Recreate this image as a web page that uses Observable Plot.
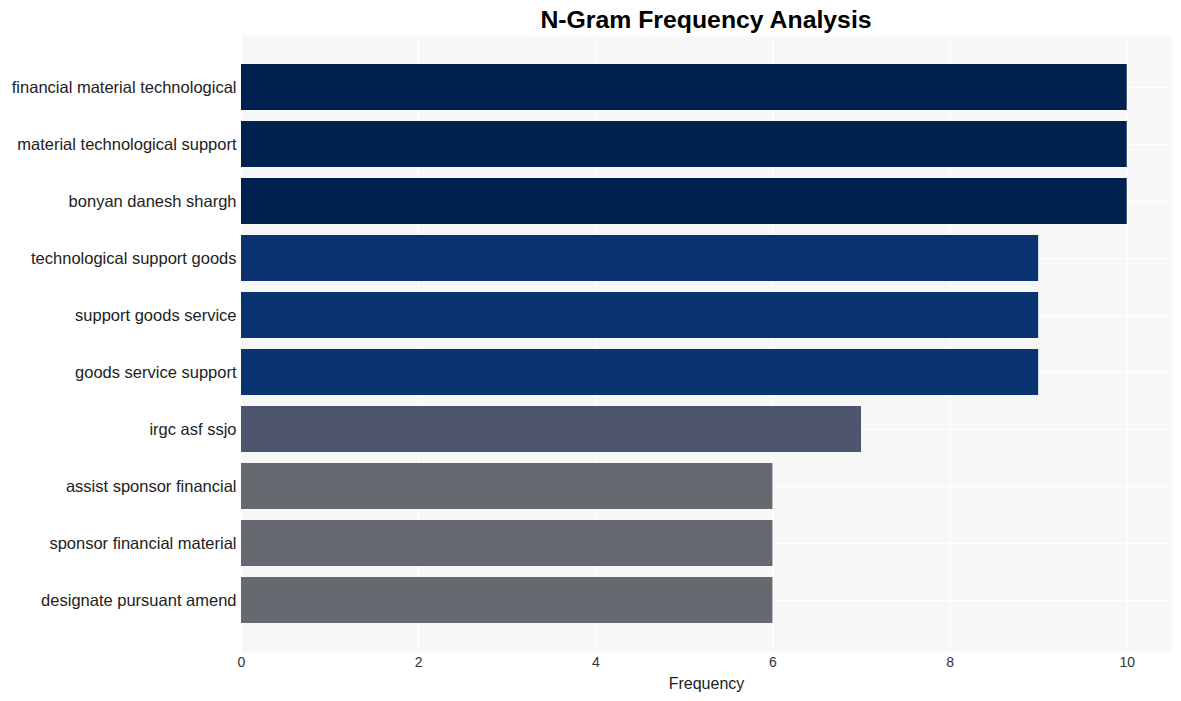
<!DOCTYPE html>
<html>
<head>
<meta charset="utf-8">
<script src="https://cdn.jsdelivr.net/npm/d3@7"></script>
<script src="https://cdn.jsdelivr.net/npm/@observablehq/plot@0.6"></script>
<style>
  body { margin: 0; background: #ffffff; font-family: "Liberation Sans", Arial, sans-serif; }
  #title { height: 36px; width: 1181px; box-sizing: border-box; padding-left: 241px; padding-right: 10px;
           text-align: center; font-weight: bold; font-size: 24.8px; line-height: 40px; color: #000; }
</style>
</head>
<body>
<div id="title">N-Gram Frequency Analysis</div>
<div id="chart"></div>
<script>
const ngrams = [
  "financial material technological",
  "material technological support",
  "bonyan danesh shargh",
  "technological support goods",
  "support goods service",
  "goods service support",
  "irgc asf ssjo",
  "assist sponsor financial",
  "sponsor financial material",
  "designate pursuant amend"
];
const frequencies = [10, 10, 10, 9, 9, 9, 7, 6, 6, 6];
const colorValues = [6, 7, 9, 10];
const colorRange = ["#676970", "#4d566d", "#0b3371", "#00224e"];
const xTicks = [0, 2, 4, 6, 8, 10];

const data = ngrams.map((g, i) => ({ngram: g, freq: frequencies[i]}));

const chart = Plot.plot({
  width: 1181,
  height: 665,
  marginTop: 0,
  marginBottom: 50,
  marginLeft: 241,
  marginRight: 10,
  style: { fontFamily: "'Liberation Sans', Arial, sans-serif", background: "#ffffff" },
  x: { domain: [0, 10.5], axis: null, label: null },
  y: { domain: ngrams, padding: 0.2, insetTop: 16, insetBottom: 16, axis: null, label: null },
  color: { type: "ordinal", domain: colorValues, range: colorRange },
  marks: [
    Plot.frame({ fill: "#f7f7f7", stroke: null }),
    Plot.gridX(xTicks, { stroke: "#ffffff", strokeOpacity: 1, strokeWidth: 1.1 }),
    Plot.gridY(ngrams, { stroke: "#ffffff", strokeOpacity: 1, strokeWidth: 1.1 }),
    Plot.barX(data, { x: "freq", y: "ngram", fill: d => d.freq }),
    Plot.text(xTicks, { x: d => d, frameAnchor: "bottom", dy: 15, fontSize: 14, fill: "#333333" }),
    Plot.axisY(ngrams, { tickSize: 0, tickPadding: 5, fontSize: 16.5, fill: "#222222", label: null }),
    Plot.text(["Frequency"], { frameAnchor: "bottom", dy: 37, fontSize: 16, fill: "#222222" })
  ]
});
document.getElementById("chart").appendChild(chart);
</script>
</body>
</html>
